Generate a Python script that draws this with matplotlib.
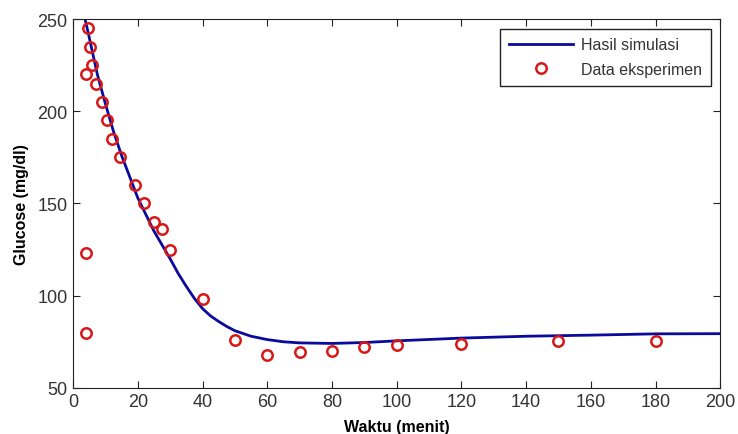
import matplotlib.pyplot as plt

plt.rcParams['font.family'] = ['Liberation Sans', 'DejaVu Sans']

# Simulation result
sim_t = [3.7, 5, 7.5, 10, 12.5, 15, 20, 25, 30, 32.5, 35, 37.5, 40, 42.5, 45,
         47.5, 50, 55, 60, 65, 70, 80, 90, 100, 120, 140, 160, 180, 200]
sim_g = [250, 240, 220, 204, 189, 176, 153, 135, 120, 112, 105, 98.5, 93, 89,
         86, 83.3, 81, 78, 76.2, 75, 74.4, 74.1, 74.6, 75.5, 77, 78, 78.6, 79.3,
         79.4]

# Experimental data
exp_t = [4.6, 5.3, 6, 4, 7, 9, 10.5, 12, 14.5, 19, 22, 25, 27.5, 30, 40, 50,
         60, 70, 80, 90, 100, 120, 150, 180, 4, 4]
exp_g = [245, 235, 225, 220, 215, 205, 195, 185, 175, 160, 150, 140, 136, 125,
         98, 76, 68, 69.5, 70, 72, 73, 74, 75.5, 75.5, 123, 80]

fig = plt.figure(figsize=(7.38, 4.35), dpi=100)
ax = fig.add_axes([0.099, 0.106, 0.877, 0.848])

ax.plot(sim_t, sim_g, color='#0a0a9c', linewidth=2, label='Hasil simulasi')
ax.plot(exp_t, exp_g, linestyle='none', marker='o', markersize=7.5,
        markerfacecolor='none', markeredgecolor='#d81818', markeredgewidth=1.8,
        label='Data eksperimen')

ax.set_xlim(0, 200)
ax.set_ylim(50, 250)
ax.set_xticks(range(0, 201, 20))
ax.set_yticks(range(50, 251, 50))
ax.tick_params(direction='in', top=True, right=True, labelsize=13,
               length=5, colors='#222222', labelcolor='#333333', pad=4)
for s in ax.spines.values():
    s.set_color('#222222')

ax.set_xlabel('Waktu (menit)', fontsize=11.5, fontweight='bold', labelpad=6)
ax.set_ylabel('Glucose (mg/dl)', fontsize=11.5, fontweight='bold', labelpad=6)

leg = ax.legend(loc='upper right', fontsize=11.5, fancybox=False,
                edgecolor='#222222', framealpha=1, borderaxespad=0.6,
                handlelength=4.0, handletextpad=0.5, borderpad=0.55,
                labelspacing=0.6)
leg.get_frame().set_linewidth(1)
for t in leg.get_texts():
    t.set_color('#333333')

fig.savefig('out.png', dpi=100)
